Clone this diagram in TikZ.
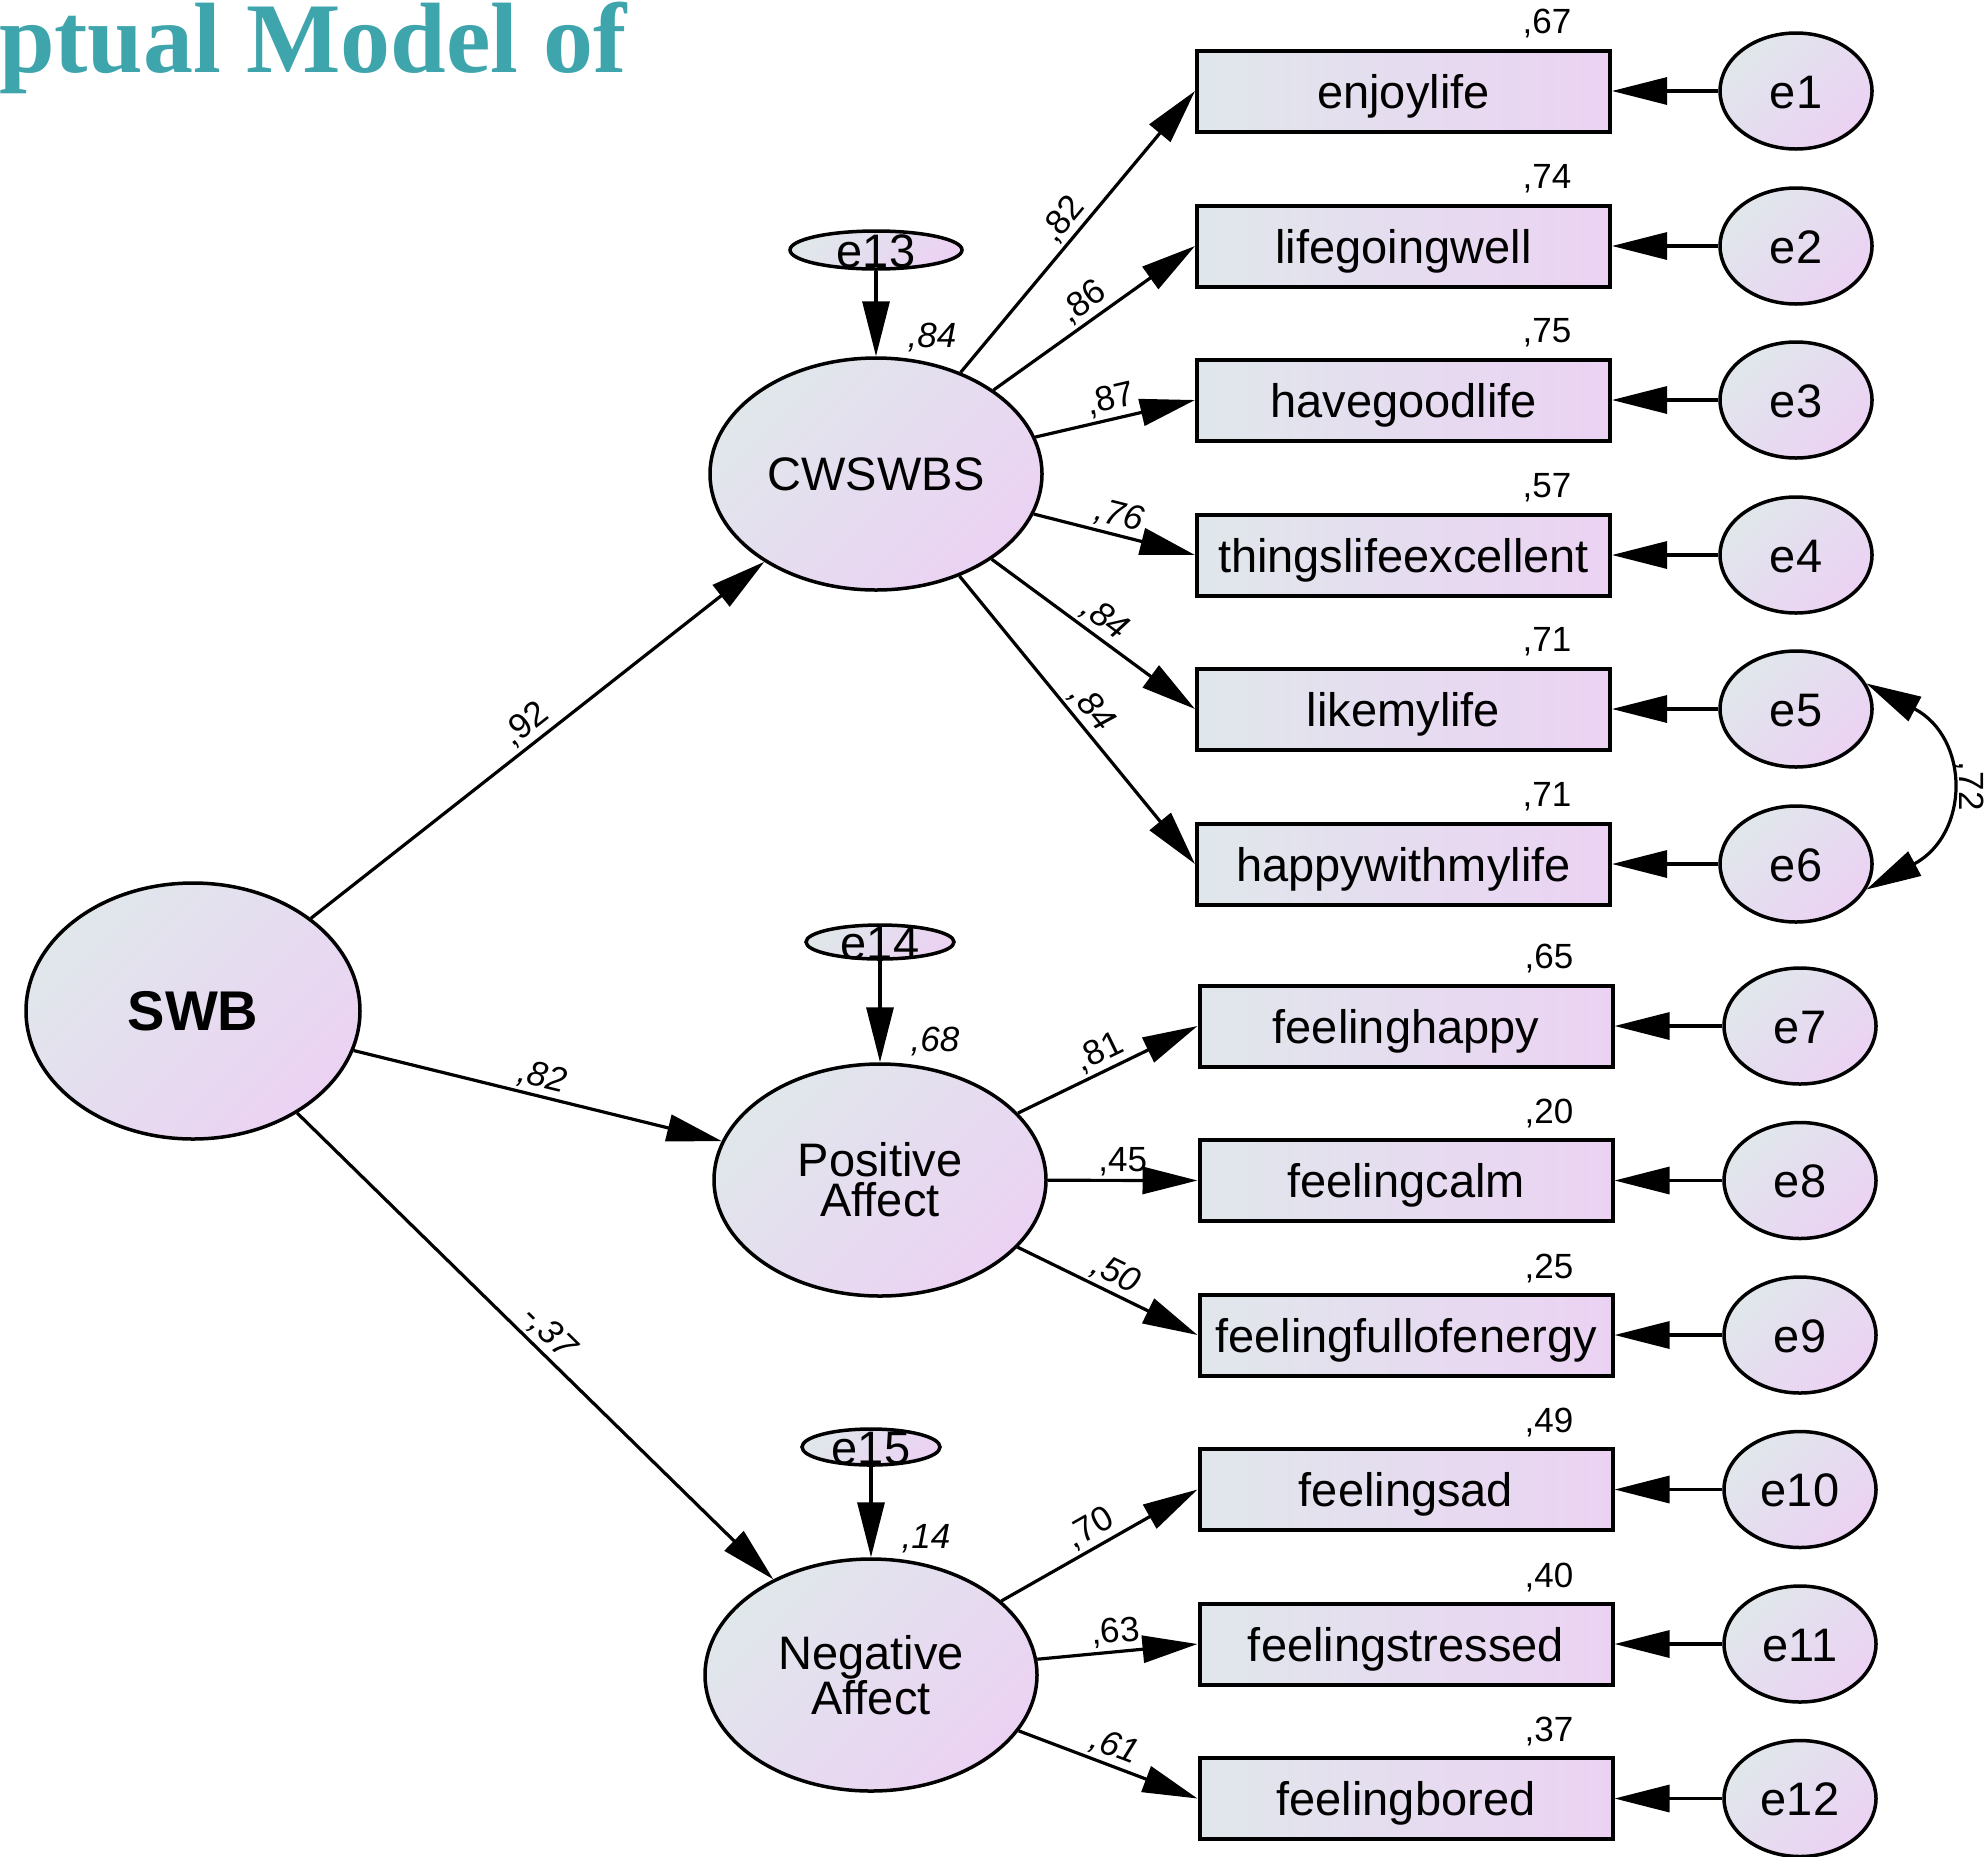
\documentclass[tikz,border=0pt]{standalone}
\usepackage{fontspec}
\setmainfont{Liberation Sans}
\newfontfamily\titlefont{Liberation Serif}
\usetikzlibrary{shapes.geometric,arrows.meta,shadings}
\definecolor{gA}{HTML}{E0E7EB}
\definecolor{gB}{HTML}{EBD2F3}
\definecolor{teal1}{HTML}{3FA5AC}
\tikzset{
  obs/.style={draw, line width=4pt, rectangle, minimum width=413pt, minimum height=81pt, inner sep=0pt,
    text height=34pt, text depth=0pt,
    left color=gA, right color=gB, font=\fontsize{47}{56}\selectfont},
  lat/.style={draw, line width=3.5pt, ellipse, minimum width=332pt, minimum height=232pt, inner sep=0pt,
    top color=gA, bottom color=gB, shading angle=45, font=\fontsize{47}{40}\selectfont, align=center},
  err/.style={draw, line width=3.5pt, ellipse, minimum width=152pt, minimum height=116pt, inner sep=0pt,
    text height=34pt, text depth=0pt,
    top color=gA, bottom color=gB, shading angle=45, font=\fontsize{47}{56}\selectfont},
  errs/.style={draw, line width=3.5pt, ellipse, inner sep=0pt,
    top color=gA, bottom color=gB, shading angle=45,
    label={[font=\fontsize{47}{56}\selectfont, text height=34pt, text depth=0pt, inner sep=0pt]center:#1}},
  tipA/.tip={Triangle[length=55pt,width=27pt]},
  pth/.style={line width=3.2pt, -tipA},
  num/.style={font=\fontsize{35}{40}\selectfont, inner sep=3pt},
  numi/.style={font=\itshape\fontsize{35}{40}\selectfont, inner sep=3pt},
}
\begin{document}
\begin{tikzpicture}[x=1pt,y=-1pt]
\useasboundingbox (0,0) rectangle (1986,1856);

\node[anchor=base east, inner sep=0pt, text=teal1, font=\titlefont\bfseries\fontsize{100}{100}\selectfont] (title) at (627,72) {ptual Model of};

% latent variables
\node[lat, minimum width=334pt, minimum height=256pt, font=\bfseries\fontsize{56}{60}\selectfont] (swb) at (193,1011) {SWB};
\node[lat] (cw) at (876,474) {CWSWBS};
\node[lat] (pa) at (880,1180) {Positive\\Affect};
\node[lat] (na) at (871,1675) {Negative\\Affect};

% disturbances
\node[errs=e13, minimum width=172pt, minimum height=38pt] (e13) at (876,250) {};
\node[errs=e14, minimum width=148pt, minimum height=34pt] (e14) at (880,942) {};
\node[errs=e15, minimum width=138pt, minimum height=36pt] (e15) at (871,1447) {};

% observed
\node[obs] (b1) at (1403.5,91) {enjoylife};
\node[obs] (b2) at (1403.5,246) {lifegoingwell};
\node[obs] (b3) at (1403.5,400) {havegoodlife};
\node[obs] (b4) at (1403.5,555) {thingslifeexcellent};
\node[obs] (b5) at (1403.5,709) {likemylife};
\node[obs] (b6) at (1403.5,864) {happywithmylife};
\node[obs] (b7) at (1406,1026) {feelinghappy};
\node[obs] (b8) at (1406,1180.5) {feelingcalm};
\node[obs] (b9) at (1406,1335) {feelingfullofenergy};
\node[obs] (b10) at (1406,1489.5) {feelingsad};
\node[obs] (b11) at (1406,1644) {feelingstressed};
\node[obs] (b12) at (1406,1798.5) {feelingbored};

% error terms
\node[err] (e1) at (1796,91) {e1};
\node[err] (e2) at (1796,246) {e2};
\node[err] (e3) at (1796,400) {e3};
\node[err] (e4) at (1796,555) {e4};
\node[err] (e5) at (1796,709) {e5};
\node[err] (e6) at (1796,864) {e6};
\node[err] (e7) at (1800,1026) {e7};
\node[err] (e8) at (1800,1180.5) {e8};
\node[err] (e9) at (1800,1335) {e9};
\node[err] (e10) at (1800,1489.5) {e10};
\node[err] (e11) at (1800,1644) {e11};
\node[err] (e12) at (1800,1798.5) {e12};

% structural paths
\draw[pth] (swb) -- node[num, sloped, above] {,92} (cw);
\draw[pth] (swb) -- node[numi, sloped, above] {,82} (pa);
\draw[pth] (swb) -- node[numi, sloped, above] {-,37} (na);
\draw[pth] (e13.south) -- (cw.north);
\draw[pth] (e14.south) -- (pa.north);
\draw[pth] (e15.south) -- (na.north);

% loadings
\draw[pth] (cw) -- node[num, sloped, above] {,82} (b1.west);
\draw[pth] (cw) -- node[num, sloped, above] {,86} (b2.west);
\draw[pth] (cw) -- node[num, sloped, above] {,87} (b3.west);
\draw[pth] (cw) -- node[numi, sloped, above] {,76} (b4.west);
\draw[pth] (cw) -- node[numi, sloped, above] {,84} (b5.west);
\draw[pth] (cw) -- node[numi, sloped, above] {,84} (b6.west);
\draw[pth] (pa) -- node[num, sloped, above] {,81} (b7.west);
\draw[pth] (pa) -- node[num, sloped, above] {,45} (b8.west);
\draw[pth] (pa) -- node[numi, sloped, above] {,50} (b9.west);
\draw[pth] (na) -- node[num, sloped, above] {,70} (b10.west);
\draw[pth] (na) -- node[num, sloped, above] {,63} (b11.west);
\draw[pth] (na) -- node[numi, sloped, above] {,61} (b12.west);

% error arrows
\foreach \i in {1,...,12} { \draw[pth] (e\i.west) -- (b\i.east); }

% correlation
\draw[line width=3.2pt, tipA-tipA]
  (e5.20) .. controls (1970,738) and (1970,834) .. node[num, pos=.5, rotate=-90, anchor=south, inner sep=9pt] {,72} (e6.-20);

% squared multiple correlations
\node[numi] (r13) at (932,338) {,84};
\node[numi] (r14) at (935,1042) {,68};
\node[numi] (r15) at (926,1539) {,14};
\node[num] (r1) at (1547,24) {,67};
\node[num] (r2) at (1547,179) {,74};
\node[num] (r3) at (1547,333) {,75};
\node[num] (r4) at (1547,488) {,57};
\node[num] (r5) at (1547,642) {,71};
\node[num] (r6) at (1547,797) {,71};
\node[num] (r7) at (1549,959) {,65};
\node[num] (r8) at (1549,1113.5) {,20};
\node[num] (r9) at (1549,1268) {,25};
\node[num] (r10) at (1549,1422.5) {,49};
\node[num] (r11) at (1549,1577) {,40};
\node[num] (r12) at (1549,1731.5) {,37};
\end{tikzpicture}
\end{document}
